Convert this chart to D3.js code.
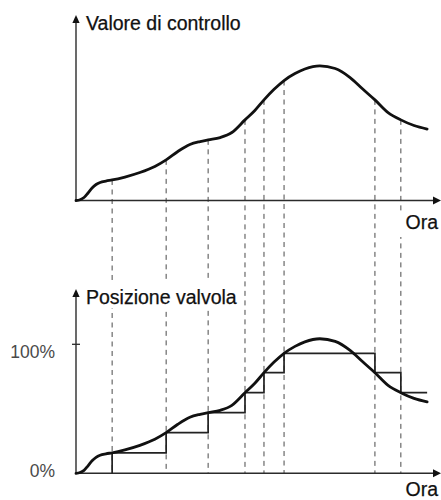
<!DOCTYPE html>
<html>
<head>
<meta charset="utf-8">
<script src="https://cdn.jsdelivr.net/npm/d3@7"></script>
<style>
  html, body { margin: 0; padding: 0; background: #fff; }
  svg { display: block; }
  text { font-family: "Liberation Sans", Arial, sans-serif; }
</style>
</head>
<body>
<script>
// Control signal over time (time in arbitrary hour units, value in %)
const curveTime  = [0, 0.11, 0.22, 0.33, 0.44, 0.55, 0.66, 0.82, 0.99, 1.34, 1.75, 2.16, 2.47, 2.79, 3.12, 3.40, 3.62, 3.95, 4.27, 4.63, 4.90, 5.15, 5.42, 5.70, 6.00, 6.27, 6.68, 7.10, 7.51, 7.84, 8.19, 8.55, 8.90, 9.26, 9.62];
const controlValue = [0, 0.6, 2.3, 5.8, 9.7, 12.4, 14.0, 15.1, 15.9, 18.2, 21.7, 26.4, 31.5, 38.0, 43.4, 45.7, 47.0, 48.8, 52.7, 62.5, 69.8, 78.0, 86.0, 93.0, 98.4, 101.9, 104.3, 102.3, 95.3, 86.8, 78.0, 68.2, 62.5, 58.1, 55.4];

// Instants at which the valve position is updated, and the held position
const sampleTime = [0.99, 2.47, 3.62, 4.63, 5.15, 5.70, 8.19, 8.90];
const valvePosition = [15.9, 31.5, 47.0, 62.5, 78.0, 93.0, 78.0, 62.5];
const endTime = 9.62;

const yTickValues = [0, 100];
const yTickLabels = ["0%", "100%"];

const W = 441, H = 500;
const svg = d3.select("body").append("svg").attr("width", W).attr("height", H);

const x = d3.scaleLinear().domain([0, 10]).range([76, 441]);
const yTop = d3.scaleLinear().domain([0, 100]).range([200.5, 71.5]);
const yBot = d3.scaleLinear().domain([0, 100]).range([473.3, 344.3]);

const curvePts = curveTime.map((t, i) => [t, controlValue[i]]);
const valueAt = t => {
  const i = d3.bisector(d => d[0]).left(curvePts, t);
  if (i <= 0) return curvePts[0][1];
  if (i >= curvePts.length) return curvePts[curvePts.length - 1][1];
  const a = curvePts[i - 1], b = curvePts[i];
  return a[1] + (b[1] - a[1]) * (t - a[0]) / (b[0] - a[0]);
};

const axisColor = "#2b2b2b";

// Dashed sampling guides, running from the upper curve down to the lower axis
svg.append("g").selectAll("line").data(sampleTime).join("line")
  .attr("x1", d => x(d)).attr("x2", d => x(d))
  .attr("y1", d => yTop(valueAt(d))).attr("y2", yBot(0))
  .attr("stroke", "#4a4a4a").attr("stroke-width", 1)
  .attr("stroke-dasharray", "5,4.5");

// Label backgrounds interrupt the guides
svg.append("rect").attr("x", 84).attr("y", 280).attr("width", 154).attr("height", 28).attr("fill", "#fff");
svg.append("rect").attr("x", 398).attr("y", 212).attr("width", 43).attr("height", 25).attr("fill", "#fff");

function drawAxes(y, arrowTop) {
  const g = svg.append("g");
  g.append("line").attr("x1", x(0)).attr("x2", x(0))
    .attr("y1", y(0)).attr("y2", arrowTop + 6)
    .attr("stroke", axisColor).attr("stroke-width", 1.4);
  g.append("line").attr("x1", x(0)).attr("x2", x(10) - 6)
    .attr("y1", y(0)).attr("y2", y(0))
    .attr("stroke", axisColor).attr("stroke-width", 1.4);
  g.append("path")
    .attr("d", `M${x(0)},${arrowTop} L${x(0) + 3.6},${arrowTop + 8} L${x(0) - 3.6},${arrowTop + 8} Z`)
    .attr("fill", "#111");
  g.append("path")
    .attr("d", `M${x(10)},${y(0)} L${x(10) - 8},${y(0) - 4} L${x(10) - 8},${y(0) + 4} Z`)
    .attr("fill", "#111");
}

drawAxes(yTop, 15);
drawAxes(yBot, 289);

const line = y => d3.line().x(d => x(d[0])).y(d => y(d[1])).curve(d3.curveMonotoneX);

// Upper panel: control value
svg.append("path").datum(curvePts).attr("d", line(yTop))
  .attr("fill", "none").attr("stroke", "#111").attr("stroke-width", 2.8)
  .attr("stroke-linecap", "round");

// Lower panel: held valve position (steps) and the control curve
const stepPts = [[sampleTime[0], 0]]
  .concat(sampleTime.map((t, i) => [t, valvePosition[i]]))
  .concat([[endTime, valvePosition[valvePosition.length - 1]]]);
svg.append("path").datum(stepPts)
  .attr("d", d3.line().x(d => x(d[0])).y(d => yBot(d[1])).curve(d3.curveStepAfter))
  .attr("fill", "none").attr("stroke", "#222").attr("stroke-width", 1.7);

svg.append("path").datum(curvePts).attr("d", line(yBot))
  .attr("fill", "none").attr("stroke", "#111").attr("stroke-width", 2.8)
  .attr("stroke-linecap", "round");

// Lower y ticks
svg.append("g").selectAll("line").data(yTickValues.filter(v => v > 0)).join("line")
  .attr("x1", x(0) - 4).attr("x2", x(0) + 4)
  .attr("y1", d => yBot(d)).attr("y2", d => yBot(d))
  .attr("stroke", axisColor).attr("stroke-width", 1.3);
const tickDy = { 0: 4, 100: 14 };
svg.append("g").selectAll("text").data(yTickValues).join("text")
  .attr("x", 55).attr("y", d => yBot(d) + tickDy[d])
  .attr("text-anchor", "end").attr("font-size", 17.5).attr("fill", "#4a4a4a")
  .text((d, i) => yTickLabels[i]);

// Titles
const title = (t, xx, yy, anchor) => svg.append("text")
  .attr("x", xx).attr("y", yy).attr("text-anchor", anchor || "start")
  .attr("font-size", 19.5).attr("fill", "#111")
  .attr("stroke", "#111").attr("stroke-width", 0.25).text(t);
title("Valore di controllo", 86, 30);
title("Ora", 438, 229, "end");
title("Posizione valvola", 86, 304);
title("Ora", 438, 496, "end");
</script>
</body>
</html>
